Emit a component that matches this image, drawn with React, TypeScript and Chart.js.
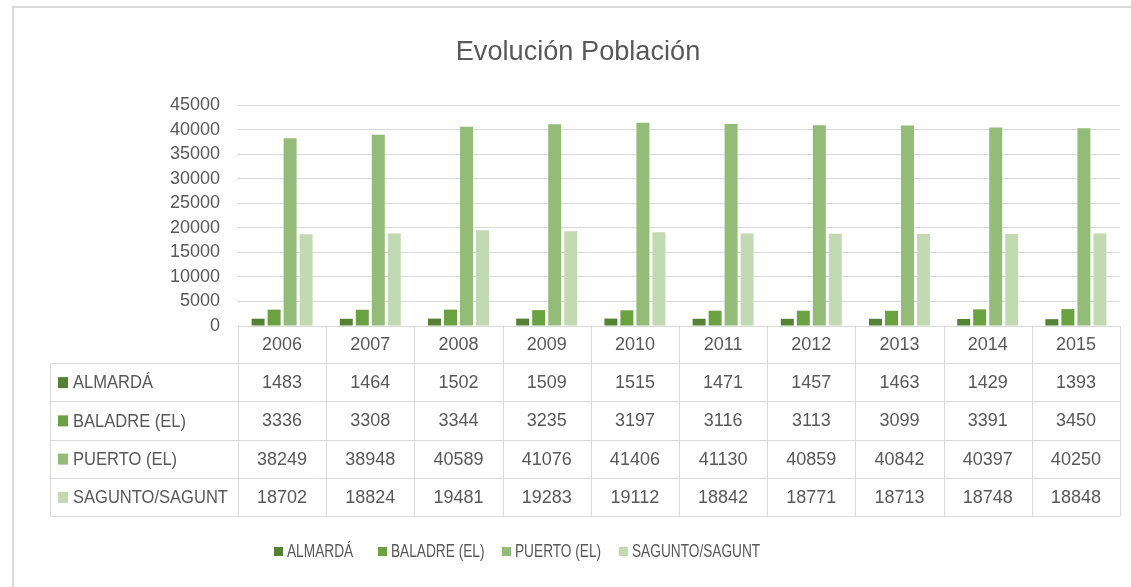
import React, { useEffect, useRef } from "react";
import { Chart, registerables } from "chart.js";

Chart.register(...registerables);

const TITLE = "Evolución Población";
const YEARS = ["2006", "2007", "2008", "2009", "2010", "2011", "2012", "2013", "2014", "2015"];
const SERIES_NAMES = ["ALMARDÁ", "BALADRE (EL)", "PUERTO (EL)", "SAGUNTO/SAGUNT"];
const ALMARDA = [1483, 1464, 1502, 1509, 1515, 1471, 1457, 1463, 1429, 1393];
const BALADRE = [3336, 3308, 3344, 3235, 3197, 3116, 3113, 3099, 3391, 3450];
const PUERTO = [38249, 38948, 40589, 41076, 41406, 41130, 40859, 40842, 40397, 40250];
const SAGUNTO = [18702, 18824, 19481, 19283, 19112, 18842, 18771, 18713, 18748, 18848];
const COLORS = ["#548235", "#6AA242", "#92BC78", "#C2DAB1"];

const FONT = "'Liberation Sans', Arial, sans-serif";
const TEXT = "#595959";
const LINE = "#D9D9D9";

const SERIES = [ALMARDA, BALADRE, PUERTO, SAGUNTO];

function condensedText(ctx: any, text: string, x: number, y: number, sx: number) {
  ctx.save();
  ctx.translate(x, y);
  ctx.scale(sx, 1);
  ctx.fillText(text, 0, 0);
  ctx.restore();
}

const extrasPlugin = {
  id: "extras",
  beforeDraw(chart: any) {
    const ctx = chart.ctx;
    ctx.save();
    ctx.fillStyle = "#ffffff";
    ctx.fillRect(0, 0, chart.width, chart.height);
    ctx.strokeStyle = LINE;
    ctx.lineWidth = 2;
    ctx.strokeRect(13, 7, chart.width + 20, chart.height + 20);
    ctx.restore();
  },
  afterDraw(chart: any) {
    const ctx = chart.ctx;
    const xs = chart.scales.x;
    const area = chart.chartArea;
    const n = YEARS.length;
    const colW = (area.right - area.left) / n;
    const tableLeft = 50;
    const rowTop = area.bottom;
    const headerH = 37;
    const rowH = 38.25;
    const tableBottom = rowTop + headerH + rowH * SERIES.length;
    ctx.save();

    // title
    ctx.fillStyle = TEXT;
    ctx.font = `28px ${FONT}`;
    ctx.textAlign = "center";
    ctx.textBaseline = "middle";
    condensedText(ctx, TITLE, 578, 52, 0.97);

    // table lines
    ctx.strokeStyle = LINE;
    ctx.lineWidth = 1;
    ctx.beginPath();
    for (let i = 0; i <= n; i++) {
      const x = Math.round(area.left + i * colW) + 0.5;
      ctx.moveTo(x, rowTop);
      ctx.lineTo(x, tableBottom);
    }
    for (let r = 0; r <= SERIES.length; r++) {
      const y = Math.round(rowTop + headerH + r * rowH) + 0.5;
      ctx.moveTo(tableLeft, y);
      ctx.lineTo(area.right, y);
    }
    ctx.moveTo(tableLeft + 0.5, rowTop + headerH);
    ctx.lineTo(tableLeft + 0.5, tableBottom);
    ctx.stroke();

    // header years
    ctx.font = `18px ${FONT}`;
    ctx.fillStyle = TEXT;
    ctx.textAlign = "center";
    ctx.textBaseline = "middle";
    YEARS.forEach((y, i) => {
      ctx.fillText(y, xs.getPixelForValue(i), rowTop + headerH / 2 + 1);
    });

    // rows
    SERIES.forEach((vals, r) => {
      const cy = rowTop + headerH + r * rowH + rowH / 2 + 1;
      ctx.fillStyle = COLORS[r];
      ctx.fillRect(58, cy - 6, 10, 11);
      ctx.fillStyle = TEXT;
      ctx.textAlign = "left";
      ctx.font = `19px ${FONT}`;
      condensedText(ctx, SERIES_NAMES[r], 73, cy, 0.87);
      ctx.font = `18px ${FONT}`;
      ctx.textAlign = "center";
      vals.forEach((v, i) => {
        ctx.fillText(String(v), xs.getPixelForValue(i), cy);
      });
    });

    // legend
    ctx.font = `18px ${FONT}`;
    ctx.textAlign = "left";
    const legendX = [274, 378, 502, 619];
    SERIES_NAMES.forEach((name, i) => {
      ctx.fillStyle = COLORS[i];
      ctx.fillRect(legendX[i], 547, 9, 9);
      ctx.fillStyle = TEXT;
      condensedText(ctx, name, legendX[i] + 13, 552, 0.76);
    });
    ctx.restore();
  },
};

export default function App() {
  const ref = useRef<HTMLCanvasElement | null>(null);
  useEffect(() => {
    if (!ref.current) return;
    const chart = new Chart(ref.current, {
      type: "bar",
      data: {
        labels: YEARS,
        datasets: SERIES.map((vals, i) => ({
          label: SERIES_NAMES[i],
          data: vals,
          backgroundColor: COLORS[i],
          borderWidth: 0,
          categoryPercentage: 0.726,
          barPercentage: 0.81,
        })),
      },
      options: {
        animation: false,
        responsive: false,
        maintainAspectRatio: false,
        layout: { padding: { top: 105, left: 168, right: 11, bottom: 261 } },
        plugins: {
          legend: { display: false },
          title: { display: false },
          tooltip: { enabled: false },
        },
        scales: {
          x: { display: false, offset: true },
          y: {
            min: 0,
            max: 45000,
            ticks: {
              stepSize: 5000,
              autoSkip: false,
              color: TEXT,
              font: { family: FONT, size: 18 },
              padding: 18,
              callback: (v: any) => String(v),
            },
            grid: { color: LINE, lineWidth: 1, drawTicks: false },
            border: { display: false },
            afterFit: (s: any) => {
              s.width = 70;
            },
          },
        },
      },
      plugins: [extrasPlugin],
    });
    return () => chart.destroy();
  }, []);
  return (
    <div style={{ position: "fixed", left: 0, top: 0, width: 1131, height: 587 }}>
      <canvas ref={ref} width={1131} height={587} style={{ display: "block" }} />
    </div>
  );
}
